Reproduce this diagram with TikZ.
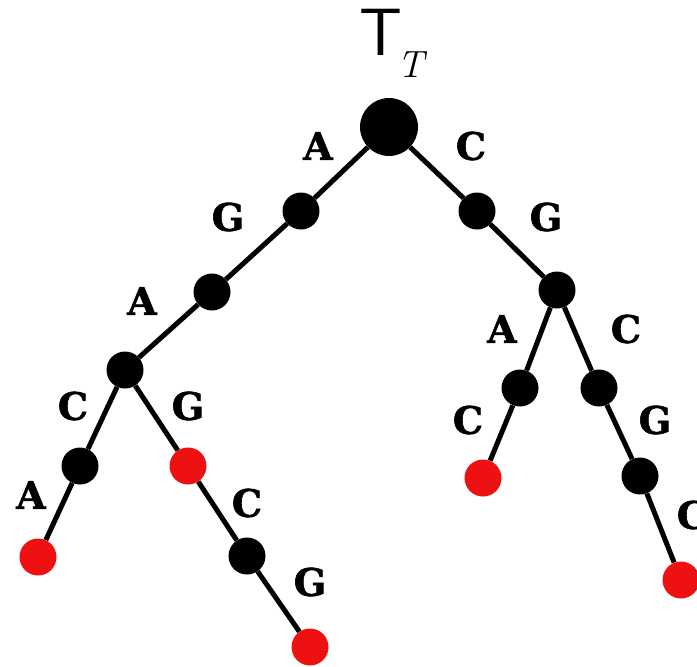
\documentclass[tikz,border=0pt]{standalone}
\usepackage{fontspec}
\newfontfamily\lblfont[BoldFeatures={FakeBold=1.5}]{DejaVu Serif}
\begin{document}
\begin{tikzpicture}[x=1pt,y=-1pt,
  edge/.style={line width=5pt},
  inner/.style={circle,fill=black,minimum size=37pt,inner sep=0pt},
  rootnode/.style={circle,fill=black,minimum size=58pt,inner sep=0pt},
  leaf/.style={circle,fill=leafred,minimum size=37pt,inner sep=0pt},
  lbl/.style={font=\lblfont\bfseries\fontsize{38}{38}\selectfont,inner sep=0pt}]
\definecolor{leafred}{HTML}{EE1111}
\useasboundingbox (0,0) rectangle (697,667);
% nodes
\node[rootnode] (r) at (389,127) {};
\node[inner] (l1) at (301,211) {};
\node[inner] (l2) at (212,292) {};
\node[inner] (l3) at (125,370) {};
\node[inner] (l4) at (80,466) {};
\node[leaf] (la) at (38,557) {};
\node[leaf] (lg) at (188,466) {};
\node[inner] (lc) at (247,556) {};
\node[leaf] (lgg) at (310,647) {};
\node[inner] (r1) at (477,211) {};
\node[inner] (r2) at (557,290) {};
\node[inner] (r3a) at (520,388) {};
\node[leaf] (r3ac) at (483,478) {};
\node[inner] (r3b) at (599,388) {};
\node[inner] (r4) at (640,476) {};
\node[leaf] (r5) at (681,580) {};
% edges
\draw[edge] (r) -- (l1) -- (l2) -- (l3) -- (l4) -- (la);
\draw[edge] (l3) -- (lg) -- (lc) -- (lgg);
\draw[edge] (r) -- (r1) -- (r2) -- (r3a) -- (r3ac);
\draw[edge] (r2) -- (r3b) -- (r4) -- (r5);
% labels
\node[lbl] at (318,146) {A};
\node[lbl] at (471,146) {C};
\node[lbl] at (228,217) {G};
\node[lbl] at (546,217) {G};
\node[lbl] at (142,301) {A};
\node[lbl] at (502,329) {A};
\node[lbl] at (626,329) {C};
\node[lbl] at (73,406) {C};
\node[lbl] at (188,406) {G};
\node[lbl] at (468,420) {C};
\node[lbl] at (655,420) {G};
\node[lbl] at (31,495) {A};
\node[lbl] at (247,503) {C};
\node[lbl] at (310,582) {G};
\node[lbl] at (692,515) {C};
% title
\node[inner sep=0pt,font=\sffamily\fontsize{67}{67}\selectfont] (title) at (381,32) {T};
\node[inner sep=0pt,font=\itshape\fontsize{38}{38}\selectfont] (sub) at (411,65) {T};
\end{tikzpicture}
\end{document}
